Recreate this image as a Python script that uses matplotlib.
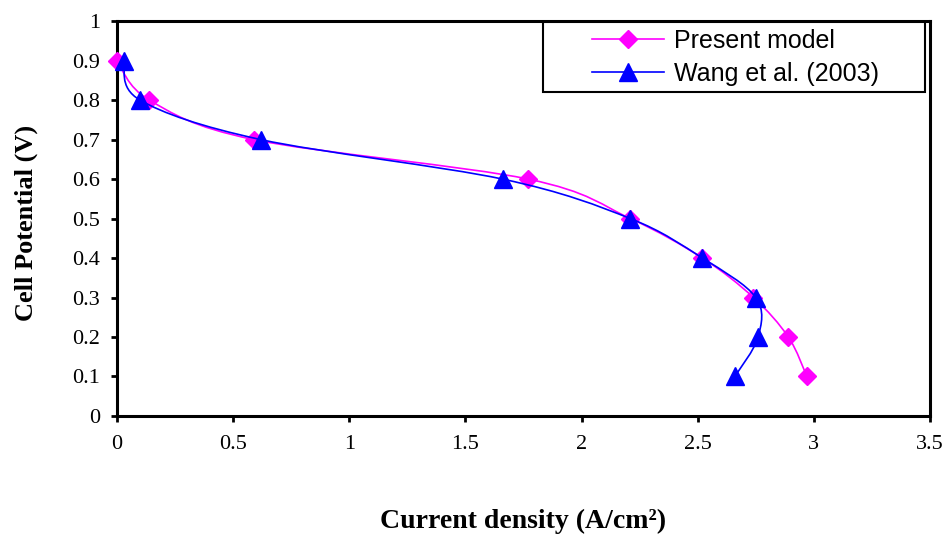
import matplotlib
matplotlib.use('Agg')
import matplotlib.pyplot as plt
from matplotlib.path import Path
from matplotlib.patches import PathPatch, Rectangle
from matplotlib.lines import Line2D

# data
present_x = [0.0, 0.14, 0.59, 1.77, 2.21, 2.52, 2.74, 2.89, 2.97]
present_y = [0.9, 0.8, 0.7, 0.6, 0.5, 0.4, 0.3, 0.2, 0.1]
wang_x = [0.03, 0.10, 0.62, 1.66, 2.21, 2.52, 2.75, 2.76, 2.66]
wang_y = [0.9, 0.8, 0.7, 0.6, 0.5, 0.4, 0.3, 0.2, 0.1]

x_ticks = [0, 0.5, 1, 1.5, 2, 2.5, 3, 3.5]
y_ticks = [0, 0.1, 0.2, 0.3, 0.4, 0.5, 0.6, 0.7, 0.8, 0.9, 1]


def smooth_path(xs, ys, k=1/6):
    # Excel-like smoothed line: cubic Bezier through the points
    pts = list(zip(xs, ys))
    n = len(pts)
    verts = [pts[0]]
    codes = [Path.MOVETO]
    for i in range(n - 1):
        p0 = pts[i - 1] if i > 0 else pts[i]
        p1 = pts[i]
        p2 = pts[i + 1]
        p3 = pts[i + 2] if i + 2 < n else pts[i + 1]
        c1 = (p1[0] + (p2[0] - p0[0]) * k, p1[1] + (p2[1] - p0[1]) * k)
        c2 = (p2[0] - (p3[0] - p1[0]) * k, p2[1] - (p3[1] - p1[1]) * k)
        verts += [c1, c2, p2]
        codes += [Path.CURVE4] * 3
    return Path(verts, codes)


fig = plt.figure(figsize=(9.5, 5.43), dpi=100)
ax = fig.add_axes([0.123, 0.234, 0.856, 0.727])

ax.add_patch(PathPatch(smooth_path(present_x, present_y), fill=False,
                       edgecolor='#ff00ff', lw=1.2, zorder=2))
ax.plot(present_x, present_y, ls='none', marker='D', ms=9,
        color='#ff00ff', zorder=3, clip_on=False)
ax.add_patch(PathPatch(smooth_path(wang_x, wang_y), fill=False,
                       edgecolor='#0000ff', lw=1.2, zorder=4))
ax.plot(wang_x, wang_y, ls='none', marker='^', ms=13,
        color='#0000ff', zorder=5, clip_on=False)

ax.set_xlim(0, 3.5)
ax.set_ylim(0, 1)
ax.set_xticks(x_ticks)
ax.set_xticklabels([f'{t:g}' for t in x_ticks])
ax.set_yticks(y_ticks)
ax.set_yticklabels([f'{t:g}' for t in y_ticks])

for s in ax.spines.values():
    s.set_linewidth(2.2)
ax.tick_params(direction='out', length=4, width=2, pad=10,
               labelsize=16, labelfontfamily='Liberation Serif')
ax.tick_params(axis='y', pad=8)

ax.set_xlabel('Current density (A/cm²)', fontsize=20, fontweight='bold',
              family='Liberation Serif')
ax.xaxis.set_label_coords(0.5, -0.235)
ax.set_ylabel('Cell Potential (V)', fontsize=19, fontweight='bold',
              family='Liberation Serif')
ax.yaxis.set_label_coords(-0.097, 0.49)

# legend box drawn separately so the entries sit centred in it
ax.add_patch(Rectangle((0.524, 0.82), 0.47, 0.177, transform=ax.transAxes,
                       facecolor='white', edgecolor='black', lw=1.5,
                       zorder=6))
handles = [
    Line2D([], [], color='#ff00ff', lw=1.2, marker='D', ms=9),
    Line2D([], [], color='#0000ff', lw=1.2, marker='^', ms=13),
]
leg = ax.legend(handles, ['Present model', 'Wang et al. (2003)'],
                loc='center', bbox_to_anchor=(0.761, 0.908),
                handlelength=2.9, frameon=False,
                prop={'family': 'Liberation Sans', 'size': 18},
                borderaxespad=0, labelspacing=0.35, handletextpad=0.4,
                borderpad=0)
leg.set_zorder(7)

fig.savefig('out.png', dpi=100)
